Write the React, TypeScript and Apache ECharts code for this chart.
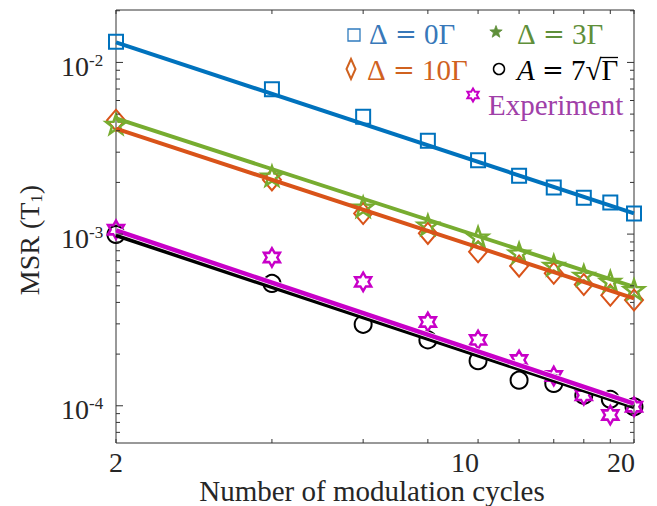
import React, { useEffect, useRef } from "react";
import * as echarts from "echarts";

// ---------------- data ----------------
const X_VALUES = [2, 4, 6, 8, 10, 12, 14, 16, 18, 20];
const SIM_DELTA0 = [1.32e-2, 6.97e-3, 4.83e-3, 3.5e-3, 2.69e-3, 2.19e-3, 1.87e-3, 1.63e-3, 1.53e-3, 1.32e-3];
const SIM_DELTA3 = [4.37e-3, 2.18e-3, 1.44e-3, 1.13e-3, 9.64e-4, 7.78e-4, 6.59e-4, 5.77e-4, 5.32e-4, 4.76e-4];
const SIM_DELTA10 = [4.61e-3, 2.07e-3, 1.32e-3, 1.01e-3, 7.89e-4, 6.51e-4, 5.91e-4, 5.09e-4, 4.41e-4, 4.13e-4];
const SIM_A7 = [9.95e-4, 5.16e-4, 2.98e-4, 2.42e-4, 1.83e-4, 1.41e-4, 1.35e-4, 1.15e-4, 1.09e-4, 9.86e-5];
const EXPERIMENT = [1.06e-3, 7.31e-4, 5.27e-4, 3.08e-4, 2.42e-4, 1.85e-4, 1.49e-4, 1.15e-4, 8.83e-5, 9.86e-5];

const FIT_X = [2, 20];
const FIT_DELTA0 = [1.31e-2, 1.32e-3];
const FIT_DELTA3 = [4.72e-3, 4.93e-4];
const FIT_DELTA10 = [4.11e-3, 4.22e-4];
const FIT_A7 = [9.87e-4, 9.84e-5];
const FIT_EXP = [1.05e-3, 1.03e-4];

const X_MIN = 2;
const X_MAX = 20;
const Y_MIN = 6.07e-5;
const Y_MAX = 2.02e-2;
const X_TICKS = [2, 4, 6, 8, 10, 12, 14, 16, 18, 20];
const X_TICK_LABELS = ["2", "10", "20"];
const X_TICK_LABEL_VALUES = [2, 10, 20];
const Y_DECADES = [-5, -4, -3, -2];
const Y_LABEL_EXPONENTS = [-4, -3, -2];

const X_TITLE = "Number of modulation cycles";
const LEGEND_LABELS = ["Δ = 0Γ", "Δ = 3Γ", "Δ = 10Γ", "A = 7√Γ", "Experiment"];

// ---------------- styles ----------------
const FONT = '"Liberation Serif", "Times New Roman", serif';
const MATH_FONT = '"DejaVu Serif", serif';
const BLUE = "#0072BD";
const ORANGE = "#D95319";
const GREEN = "#77AC30";
const BLACK = "#000000";
const MAGENTA = "#C800C8";
const AXIS = "#333333";
const TEXT = "#262626";
const LEG_FS = 29;

function starPath(n: number, rOut: number, rIn: number) {
  const pts: string[] = [];
  for (let k = 0; k < 2 * n; k++) {
    const r = k % 2 === 0 ? rOut : rIn;
    const a = -Math.PI / 2 + (k * Math.PI) / n;
    pts.push(`${(r * Math.cos(a)).toFixed(3)},${(r * Math.sin(a)).toFixed(3)}`);
  }
  return "path://M" + pts.join("L") + "Z";
}
function starPoints(cx: number, cy: number, n: number, rOut: number, rIn: number) {
  const pts: number[][] = [];
  for (let k = 0; k < 2 * n; k++) {
    const r = k % 2 === 0 ? rOut : rIn;
    const a = -Math.PI / 2 + (k * Math.PI) / n;
    pts.push([cx + r * Math.cos(a), cy + r * Math.sin(a)]);
  }
  return pts;
}

const STAR5 = starPath(5, 10, 4);
const HEXAGRAM = starPath(6, 10, 5.77);

function pairs(xs: number[], ys: number[]) {
  return xs.map((x, i) => [x, ys[i]]);
}

function fitLine(name: string, ys: number[], color: string, width: number) {
  return {
    name,
    type: "line",
    data: pairs(FIT_X, ys),
    symbol: "none",
    clip: false,
    silent: true,
    lineStyle: { color, width, cap: "butt" },
  };
}

function markers(name: string, ys: number[], symbol: string, size: any, color: string, bw: number) {
  return {
    name,
    type: "scatter",
    data: pairs(X_VALUES, ys),
    symbol,
    symbolSize: size,
    clip: false,
    silent: true,
    itemStyle: { color: "transparent", borderColor: color, borderWidth: bw, opacity: 1 },
  };
}

// legend label "Δ = nΓ" split into rich tokens so the "=" can use a math-like font
function deltaRich(label: string) {
  const parts = label.split(" = ");
  return `{d|${parts[0]} }{e|=}{d| ${parts[1]}}`;
}

export default function App() {
  const ref = useRef<HTMLDivElement>(null);
  useEffect(() => {
    if (!ref.current) return;
    const chart = echarts.init(ref.current, null, { renderer: "svg" });

    const axisSeries = {
      type: "custom",
      silent: true,
      clip: false,
      z: 10,
      data: [[2, 1e-3]],
      renderItem: (params: any, api: any) => {
        const ch: any[] = [];
        const [left, bottom] = api.coord([X_MIN, Y_MIN]);
        const [right, top] = api.coord([X_MAX, Y_MAX]);
        const ln = (x1: number, y1: number, x2: number, y2: number) =>
          ch.push({ type: "line", shape: { x1, y1, x2, y2 }, style: { stroke: AXIS, lineWidth: 1 } });
        X_TICKS.forEach((v) => {
          const x = api.coord([v, Y_MIN])[0];
          ln(x, bottom, x, bottom - 4);
          ln(x, top, x, top + 4);
        });
        Y_DECADES.forEach((e) => {
          for (let m = 1; m <= 9; m++) {
            const v = m * Math.pow(10, e);
            if (v < Y_MIN || v > Y_MAX) continue;
            const y = api.coord([X_MIN, v])[1];
            const len = m === 1 ? 7 : 4;
            ln(left, y, left + len, y);
            ln(right, y, right - len, y);
          }
        });
        X_TICK_LABEL_VALUES.forEach((v, i) => {
          const x = api.coord([v, Y_MIN])[0];
          const shift = i === 0 ? 0 : 13;
          ch.push({
            type: "text",
            x: x - shift,
            y: bottom + 19,
            style: {
              text: X_TICK_LABELS[i],
              fill: TEXT,
              fontSize: 28,
              fontFamily: FONT,
              align: "center",
              verticalAlign: "middle",
            },
          });
        });
        Y_LABEL_EXPONENTS.forEach((e) => {
          const y = api.coord([X_MIN, Math.pow(10, e)])[1];
          ch.push({
            type: "text",
            x: left - 27,
            y: y + 4,
            style: { text: "10", fill: TEXT, fontSize: 28, fontFamily: FONT, align: "right", verticalAlign: "middle" },
          });
          ch.push({
            type: "text",
            x: left - 27,
            y: y - 2,
            style: { text: String(e), fill: TEXT, fontSize: 17, fontFamily: FONT, align: "left", verticalAlign: "middle" },
          });
        });
        return { type: "group", children: ch };
      },
    };

    const legendText = (x: number, y: number, text: any, color: string, rich?: any) => ({
      type: "text",
      x,
      y,
      style: { text, fill: color, fontSize: LEG_FS, fontFamily: FONT, align: "left", verticalAlign: "middle", rich },
    });
    const deltaStyles = (color: string) => ({
      d: { fontSize: LEG_FS, fontFamily: FONT, fill: color },
      e: { fontSize: 26, fontFamily: MATH_FONT, fill: color },
    });

    const option: any = {
      animation: false,
      backgroundColor: "#ffffff",
      grid: {
        left: 116,
        top: 10,
        right: 23,
        bottom: 63,
        show: true,
        borderColor: AXIS,
        borderWidth: 1,
        backgroundColor: "transparent",
      },
      xAxis: {
        type: "log",
        logBase: 10,
        min: X_MIN,
        max: X_MAX,
        axisLine: { show: false },
        axisTick: { show: false },
        axisLabel: { show: false },
        splitLine: { show: false },
        minorTick: { show: false },
      },
      yAxis: {
        type: "log",
        logBase: 10,
        min: Y_MIN,
        max: Y_MAX,
        axisLine: { show: false },
        axisTick: { show: false },
        axisLabel: { show: false },
        splitLine: { show: false },
        minorTick: { show: false },
      },
      series: [
        fitLine("fit0", FIT_DELTA0, BLUE, 4),
        fitLine("fit10", FIT_DELTA10, ORANGE, 4),
        fitLine("fit3", FIT_DELTA3, GREEN, 4),
        fitLine("fitA", FIT_A7, BLACK, 4.5),
        fitLine("fitExpBorder", FIT_EXP, "#ffffff", 6),
        fitLine("fitExp", FIT_EXP, MAGENTA, 4.5),
        markers(LEGEND_LABELS[0], SIM_DELTA0, "rect", 14, BLUE, 2),
        markers(LEGEND_LABELS[2], SIM_DELTA10, "diamond", [18, 21], ORANGE, 2),
        markers(LEGEND_LABELS[1], SIM_DELTA3, STAR5, [20, 19], GREEN, 2.5),
        markers(LEGEND_LABELS[3], SIM_A7, "circle", 17, BLACK, 2),
        markers(LEGEND_LABELS[4], EXPERIMENT, HEXAGRAM, [16, 18.5], MAGENTA, 2.5),
        axisSeries,
      ],
      graphic: [
        {
          type: "text",
          x: 372,
          y: 491,
          style: { text: X_TITLE, fill: TEXT, fontSize: 29, fontFamily: FONT, align: "center", verticalAlign: "middle" },
        },
        {
          type: "text",
          x: 29,
          y: 240,
          rotation: Math.PI / 2,
          style: {
            text: "{a|MSR (T}{s|1}{a|)}",
            fill: TEXT,
            fontSize: 28,
            fontFamily: FONT,
            align: "center",
            verticalAlign: "middle",
            rich: {
              a: { fontSize: 28, fontFamily: FONT, fill: TEXT },
              s: { fontSize: 17, fontFamily: FONT, fill: TEXT, padding: [14, 0, 0, 0] },
            },
          },
        },
        // legend
        { type: "rect", shape: { x: 348, y: 29, width: 12, height: 12 }, style: { fill: "none", stroke: "#2F7BBE", lineWidth: 1.3 } },
        legendText(369, 34, deltaRich(LEGEND_LABELS[0]), "#3878B9", deltaStyles("#3878B9")),
        { type: "polygon", shape: { points: starPoints(496, 32, 5, 6.5, 2.7) }, style: { fill: "#5F8F3A", stroke: "#5F8F3A", lineWidth: 0.8 } },
        legendText(517, 34, deltaRich(LEGEND_LABELS[1]), "#5F8F3A", deltaStyles("#5F8F3A")),
        { type: "polygon", shape: { points: [[351, 59], [355.5, 69], [351, 79], [346.5, 69]] }, style: { fill: "none", stroke: "#D0621F", lineWidth: 2 } },
        legendText(367, 70, deltaRich(LEGEND_LABELS[2]), "#D0621F", deltaStyles("#D0621F")),
        { type: "circle", shape: { cx: 499, cy: 69, r: 5.5 }, style: { fill: "none", stroke: BLACK, lineWidth: 1.5 } },
        legendText(517, 70, "{i|A }{e|=}{t| 7√Γ}", BLACK, {
          i: { fontSize: LEG_FS, fontFamily: FONT, fontStyle: "italic", fill: BLACK },
          e: { fontSize: 26, fontFamily: MATH_FONT, fill: BLACK },
          t: { fontSize: LEG_FS, fontFamily: FONT, fill: BLACK },
        }),
        { type: "line", shape: { x1: 600, y1: 57.5, x2: 618, y2: 57.5 }, style: { stroke: BLACK, lineWidth: 1.3 } },
        { type: "polygon", shape: { points: starPoints(473, 95, 6, 6.5, 3.75) }, style: { fill: "none", stroke: MAGENTA, lineWidth: 2 } },
        legendText(488, 105, LEGEND_LABELS[4], "#A040A8"),
      ],
    };
    chart.setOption(option);
    return () => chart.dispose();
  }, []);
  return (
    <div
      ref={ref}
      style={{ position: "fixed", left: 0, top: 0, width: 657, height: 506, background: "#fff" }}
    />
  );
}
